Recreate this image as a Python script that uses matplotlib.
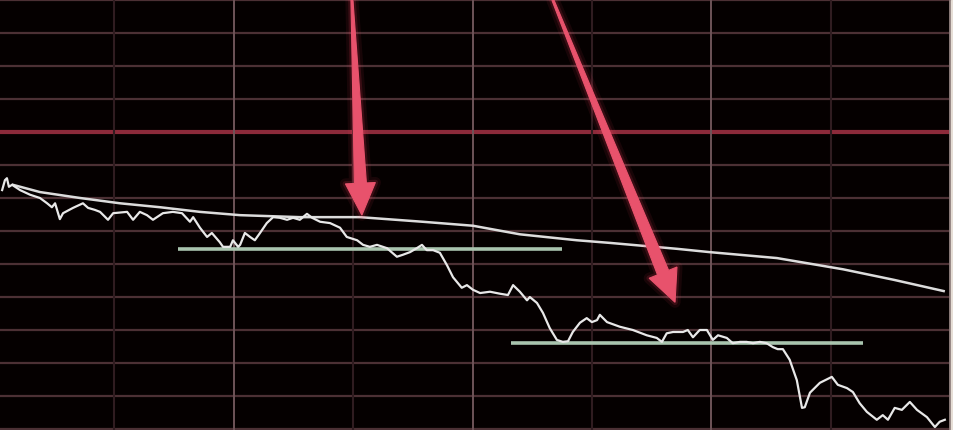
import numpy as np
import matplotlib
matplotlib.use('Agg')
from matplotlib import pyplot as plt
from matplotlib.patches import Polygon
from matplotlib.transforms import IdentityTransform

# Phut giao dich (0..240) va bien dong gia (%)
t_price = [1.8, 2.5, 3.0, 3.5, 4.3, 6.3, 8.8, 11.3, 13.1, 14.3, 15.1, 16.3, 17.1, 19.6,
           22.1, 23.4, 25.1, 26.4, 28.4, 29.7, 33.2, 34.7, 36.4, 38.2, 39.7, 42.2, 44.7,
           47.0, 49.0, 49.8, 51.5, 53.3, 54.5, 56.5, 57.3, 59.1, 59.8, 61.1, 61.6, 62.8,
           64.1, 65.3, 66.6, 68.3, 69.9, 71.6, 73.4, 74.9, 76.6, 78.4, 79.7, 81.7, 84.2,
           86.7, 88.4, 91.0, 92.5, 94.2, 96.0, 98.5, 101.0, 102.5, 104.3, 106.0, 107.3,
           108.5, 110.1, 111.8, 113.6, 115.1, 117.3, 118.6, 120.1, 121.9, 124.4, 126.9,
           128.9, 130.2, 131.9, 133.7, 134.4, 136.2, 137.7, 139.4, 141.2, 142.7, 144.0,
           145.2, 147.0, 148.7, 150.0, 151.3, 152.0, 153.8, 157.0, 160.3, 163.8, 166.3,
           167.6, 168.8, 170.4, 172.9, 174.1, 175.4, 177.1, 178.9, 180.4, 181.7, 183.9,
           185.4, 187.2, 188.9, 190.5, 192.2, 193.9, 195.5, 196.7, 198.0, 199.7, 201.5,
           202.8, 203.5, 204.8, 207.3, 210.3, 211.8, 214.1, 215.6, 217.3, 219.1, 221.6,
           223.1, 224.4, 226.1, 227.9, 229.9, 231.7, 234.2, 236.2, 237.4, 238.7]
price = [-0.88, -0.73, -0.70, -0.83, -0.80, -0.88, -0.95, -1.00, -1.08, -1.14, -1.08, -1.32,
         -1.23, -1.15, -1.08, -1.15, -1.18, -1.21, -1.33, -1.23, -1.21, -1.33, -1.21, -1.26,
         -1.33, -1.23, -1.21, -1.23, -1.36, -1.29, -1.45, -1.59, -1.53, -1.67, -1.74, -1.74,
         -1.64, -1.74, -1.71, -1.53, -1.59, -1.64, -1.53, -1.38, -1.29, -1.30, -1.33, -1.30,
         -1.33, -1.24, -1.30, -1.36, -1.38, -1.45, -1.59, -1.64, -1.71, -1.74, -1.71, -1.76,
         -1.89, -1.86, -1.82, -1.76, -1.71, -1.79, -1.79, -1.83, -2.02, -2.20, -2.36, -2.32,
         -2.39, -2.44, -2.42, -2.45, -2.47, -2.32, -2.42, -2.55, -2.50, -2.59, -2.74, -2.97,
         -3.15, -3.18, -3.17, -3.03, -2.89, -2.82, -2.88, -2.85, -2.77, -2.88, -2.95, -3.00,
         -3.08, -3.12, -3.18, -3.05, -3.03, -3.03, -3.00, -3.11, -3.00, -3.00, -3.15, -3.08,
         -3.12, -3.20, -3.18, -3.18, -3.20, -3.18, -3.20, -3.26, -3.29, -3.29, -3.45, -3.76,
         -4.18, -4.17, -3.95, -3.80, -3.71, -3.83, -3.88, -3.94, -4.11, -4.24, -4.36, -4.29,
         -4.36, -4.18, -4.21, -4.09, -4.21, -4.32, -4.47, -4.39, -4.36]

# duong gia trung binh
t_avg = [4.5, 11.3, 21.4, 31.4, 41.5, 51.5, 61.6, 76.6, 91.7, 107.5, 120.1, 131.9, 146.2,
         154.5, 171.4, 179.6, 196.5, 213.1, 225.9, 238.4]
avg = [-0.80, -0.91, -1.00, -1.08, -1.14, -1.21, -1.26, -1.29, -1.29, -1.36, -1.42, -1.55,
       -1.64, -1.68, -1.77, -1.82, -1.91, -2.08, -2.24, -2.41]

# hai duong ho tro (mau xanh)
support_level = [-1.77, -3.20]
support_start = [46.0, 129.6]
support_end = [142.5, 218.1]

# mui ten: (t, %) cua duoi va dau mui ten
arrow_tail = [(89.7, 2.0), (140.2, 2.0)]
arrow_tip = [(92.2, -1.26), (170.9, -2.58)]

fig = plt.figure(figsize=(9.54, 4.30), dpi=100)
fig.patch.set_facecolor('#050000')
ax = fig.add_axes([0, 0, 1, 1])
ax.set_facecolor('#050000')
ax.set_xlim(1.26, 241.0)
ax.set_ylim(-4.515, 2.0)
ax.axis('off')

# luoi ngang
for lv in np.arange(2.0, -4.6, -0.5):
    if abs(lv) < 1e-9:
        ax.axhline(lv, color='#8c2a3a', lw=3.0, zorder=1)
    else:
        ax.axhline(lv, color='#4c3034', lw=1.6, zorder=1)
# luoi doc
for m in [30, 90, 150, 210]:
    ax.axvline(m, color='#301c20', lw=1.5, zorder=1)
for m in [60, 120, 180]:
    ax.axvline(m, color='#6e5458', lw=1.4, zorder=1)
ax.axvline(240, color='#8a7a78', lw=1.4, zorder=1)
ax.axvspan(240.3, 241.0, color='#e6ded6', zorder=1)

for lv, a, b in zip(support_level, support_start, support_end):
    ax.plot([a, b], [lv, lv], color='#a9c4ae', lw=2.6, solid_capstyle='butt', zorder=2)

ax.plot(t_avg, avg, color='#dcdcdc', lw=1.8, zorder=3)
ax.plot(t_price, price, color='#e8e8e8', lw=1.6, zorder=4)

fig.canvas.draw()


def draw_arrow(tail, tip, w0=2.0, w1=12.0, head_len=32.0, head_w=30.0):
    p0 = ax.transData.transform(tail)
    p1 = ax.transData.transform(tip)
    d = p1 - p0
    u = d / np.hypot(*d)
    n = np.array([-u[1], u[0]])
    base = p1 - u * head_len
    pts = [p0 + n * w0 / 2, base + n * w1 / 2, base + n * head_w / 2, p1,
           base - n * head_w / 2, base - n * w1 / 2, p0 - n * w0 / 2]
    # quang sang mo quanh mui ten
    for lw, al in [(8, 0.08), (4, 0.15)]:
        ax.add_patch(Polygon(pts, closed=True, transform=IdentityTransform(),
                             facecolor='none', edgecolor='#ff4060', lw=lw, alpha=al,
                             joinstyle='round', zorder=5))
    ax.add_patch(Polygon(pts, closed=True, transform=IdentityTransform(),
                         facecolor='#e8526c', edgecolor='#e8526c', lw=0.8, zorder=6))


for tl, tp in zip(arrow_tail, arrow_tip):
    draw_arrow(tl, tp)

fig.savefig('out.png', dpi=100, facecolor=fig.get_facecolor())
